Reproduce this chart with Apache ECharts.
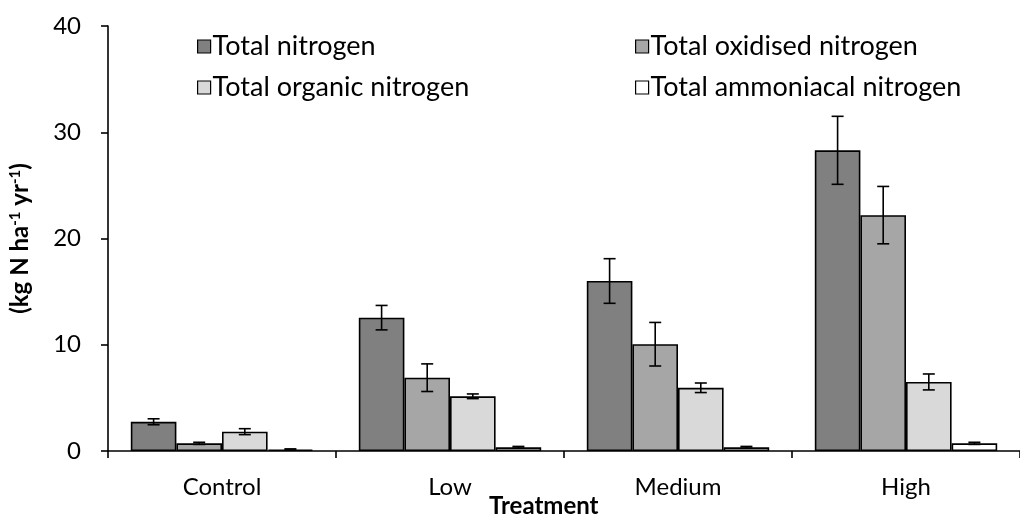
<!DOCTYPE html>
<html><head><meta charset="utf-8">
<script src="https://cdn.jsdelivr.net/npm/echarts@6/dist/echarts.min.js"></script>
<style>html,body{margin:0;padding:0;background:#fff}#c{width:1020px;height:518px}</style>
</head><body><div id="c"></div>
<script>
const categories = ['Control', 'Low', 'Medium', 'High'];
const seriesNames = ['Total nitrogen', 'Total oxidised nitrogen', 'Total organic nitrogen', 'Total ammoniacal nitrogen'];
const totalN = [2.75, 12.55, 16.0, 28.3];
const totalOxN = [0.72, 6.9, 10.05, 22.2];
const totalOrgN = [1.82, 5.15, 5.95, 6.5];
const totalAmmN = [0.15, 0.35, 0.35, 0.72];
const errTotalN = [0.28, 1.15, 2.1, 3.2];
const errTotalOxN = [0.1, 1.3, 2.05, 2.7];
const errTotalOrgN = [0.28, 0.22, 0.45, 0.75];
const errTotalAmmN = [0.05, 0.08, 0.08, 0.1];
const yTicks = [0, 10, 20, 30, 40];

const values = [totalN, totalOxN, totalOrgN, totalAmmN];
const errors = [errTotalN, errTotalOxN, errTotalOrgN, errTotalAmmN];
const colors = ['#808080', '#a6a6a6', '#d9d9d9', '#ffffff'];
const FONT = 'Lato';

const chart = echarts.init(document.getElementById('c'), null, {renderer: 'canvas'});

const barSeries = seriesNames.map((n, i) => ({
  name: n, type: 'bar', data: values[i],
  barGap: '0%', barCategoryGap: '20%',
  itemStyle: {color: colors[i], borderColor: '#000', borderWidth: 1.6},
  emphasis: {disabled: true}, z: 2
}));

const errSeries = seriesNames.map((n, i) => ({
  type: 'custom', name: n + ' err',
  data: categories.map((c, k) => [k, values[i][k] - errors[i][k], values[i][k] + errors[i][k]]),
  renderItem: function (params, api) {
    const k = api.value(0);
    const band = api.size([1, 0])[0];
    const bw = band * 0.8 / 4;
    const off = (i - 1.5) * bw;
    const lo = api.coord([k, api.value(1)]);
    const hi = api.coord([k, api.value(2)]);
    const x = lo[0] + off;
    const cap = 6;
    const st = {stroke: '#000', lineWidth: 1.6};
    return {type: 'group', children: [
      {type: 'line', shape: {x1: x, y1: lo[1], x2: x, y2: hi[1]}, style: st},
      {type: 'line', shape: {x1: x - cap, y1: lo[1], x2: x + cap, y2: lo[1]}, style: st},
      {type: 'line', shape: {x1: x - cap, y1: hi[1], x2: x + cap, y2: hi[1]}, style: st}
    ]};
  },
  z: 5, silent: true
}));

const legendPos = [[197, 33], [635, 33], [197, 74], [635, 74]];
const legends = seriesNames.map((n, i) => ({
  data: [n], left: legendPos[i][0], top: legendPos[i][1],
  icon: 'rect',
  itemWidth: 13, itemHeight: 13, itemGap: 0, padding: 0,
  selectedMode: false,
  itemStyle: {borderColor: '#000', borderWidth: 1.2},
  textStyle: {fontFamily: FONT, fontSize: 27, color: '#000', padding: [0, 0, 0, -3]}
}));

chart.setOption({
  animation: false,
  backgroundColor: '#fff',
  textStyle: {fontFamily: FONT},
  grid: {left: 108, top: 26, width: 922, bottom: 67, containLabel: false},
  legend: legends,
  xAxis: {
    type: 'category', data: categories,
    axisLine: {lineStyle: {color: '#000', width: 1.6}},
    axisTick: {show: true, length: 7, lineStyle: {color: '#000', width: 1.6}},
    axisLabel: {fontFamily: FONT, fontSize: 24, color: '#000', margin: 24}
  },
  yAxis: {
    type: 'value', min: 0, max: 40, interval: 10,
    name: '(kg N ha{s|-1} yr{s|-1})',
    nameLocation: 'middle', nameGap: 76, nameRotate: 90,
    nameTextStyle: {fontFamily: FONT, fontSize: 24, fontWeight: 'bold', color: '#000',
      rich: {s: {fontFamily: FONT, fontSize: 15, fontWeight: 'bold', color: '#000', verticalAlign: 'top', padding: [0, 0, 9, 0]}}},
    axisLine: {show: true, lineStyle: {color: '#000', width: 1.6}},
    axisTick: {show: true, length: 7, lineStyle: {color: '#000', width: 1.6}},
    splitLine: {show: false},
    axisLabel: {fontFamily: FONT, fontSize: 24, color: '#000', margin: 27,
      formatter: v => yTicks.includes(v) ? String(v) : ''}
  },
  graphic: [{type: 'text', left: 489, top: 494,
    style: {text: 'Treatment', fontFamily: FONT, fontSize: 24, fontWeight: 'bold', fill: '#000'}}],
  series: barSeries.concat(errSeries)
});
</script></body></html>
